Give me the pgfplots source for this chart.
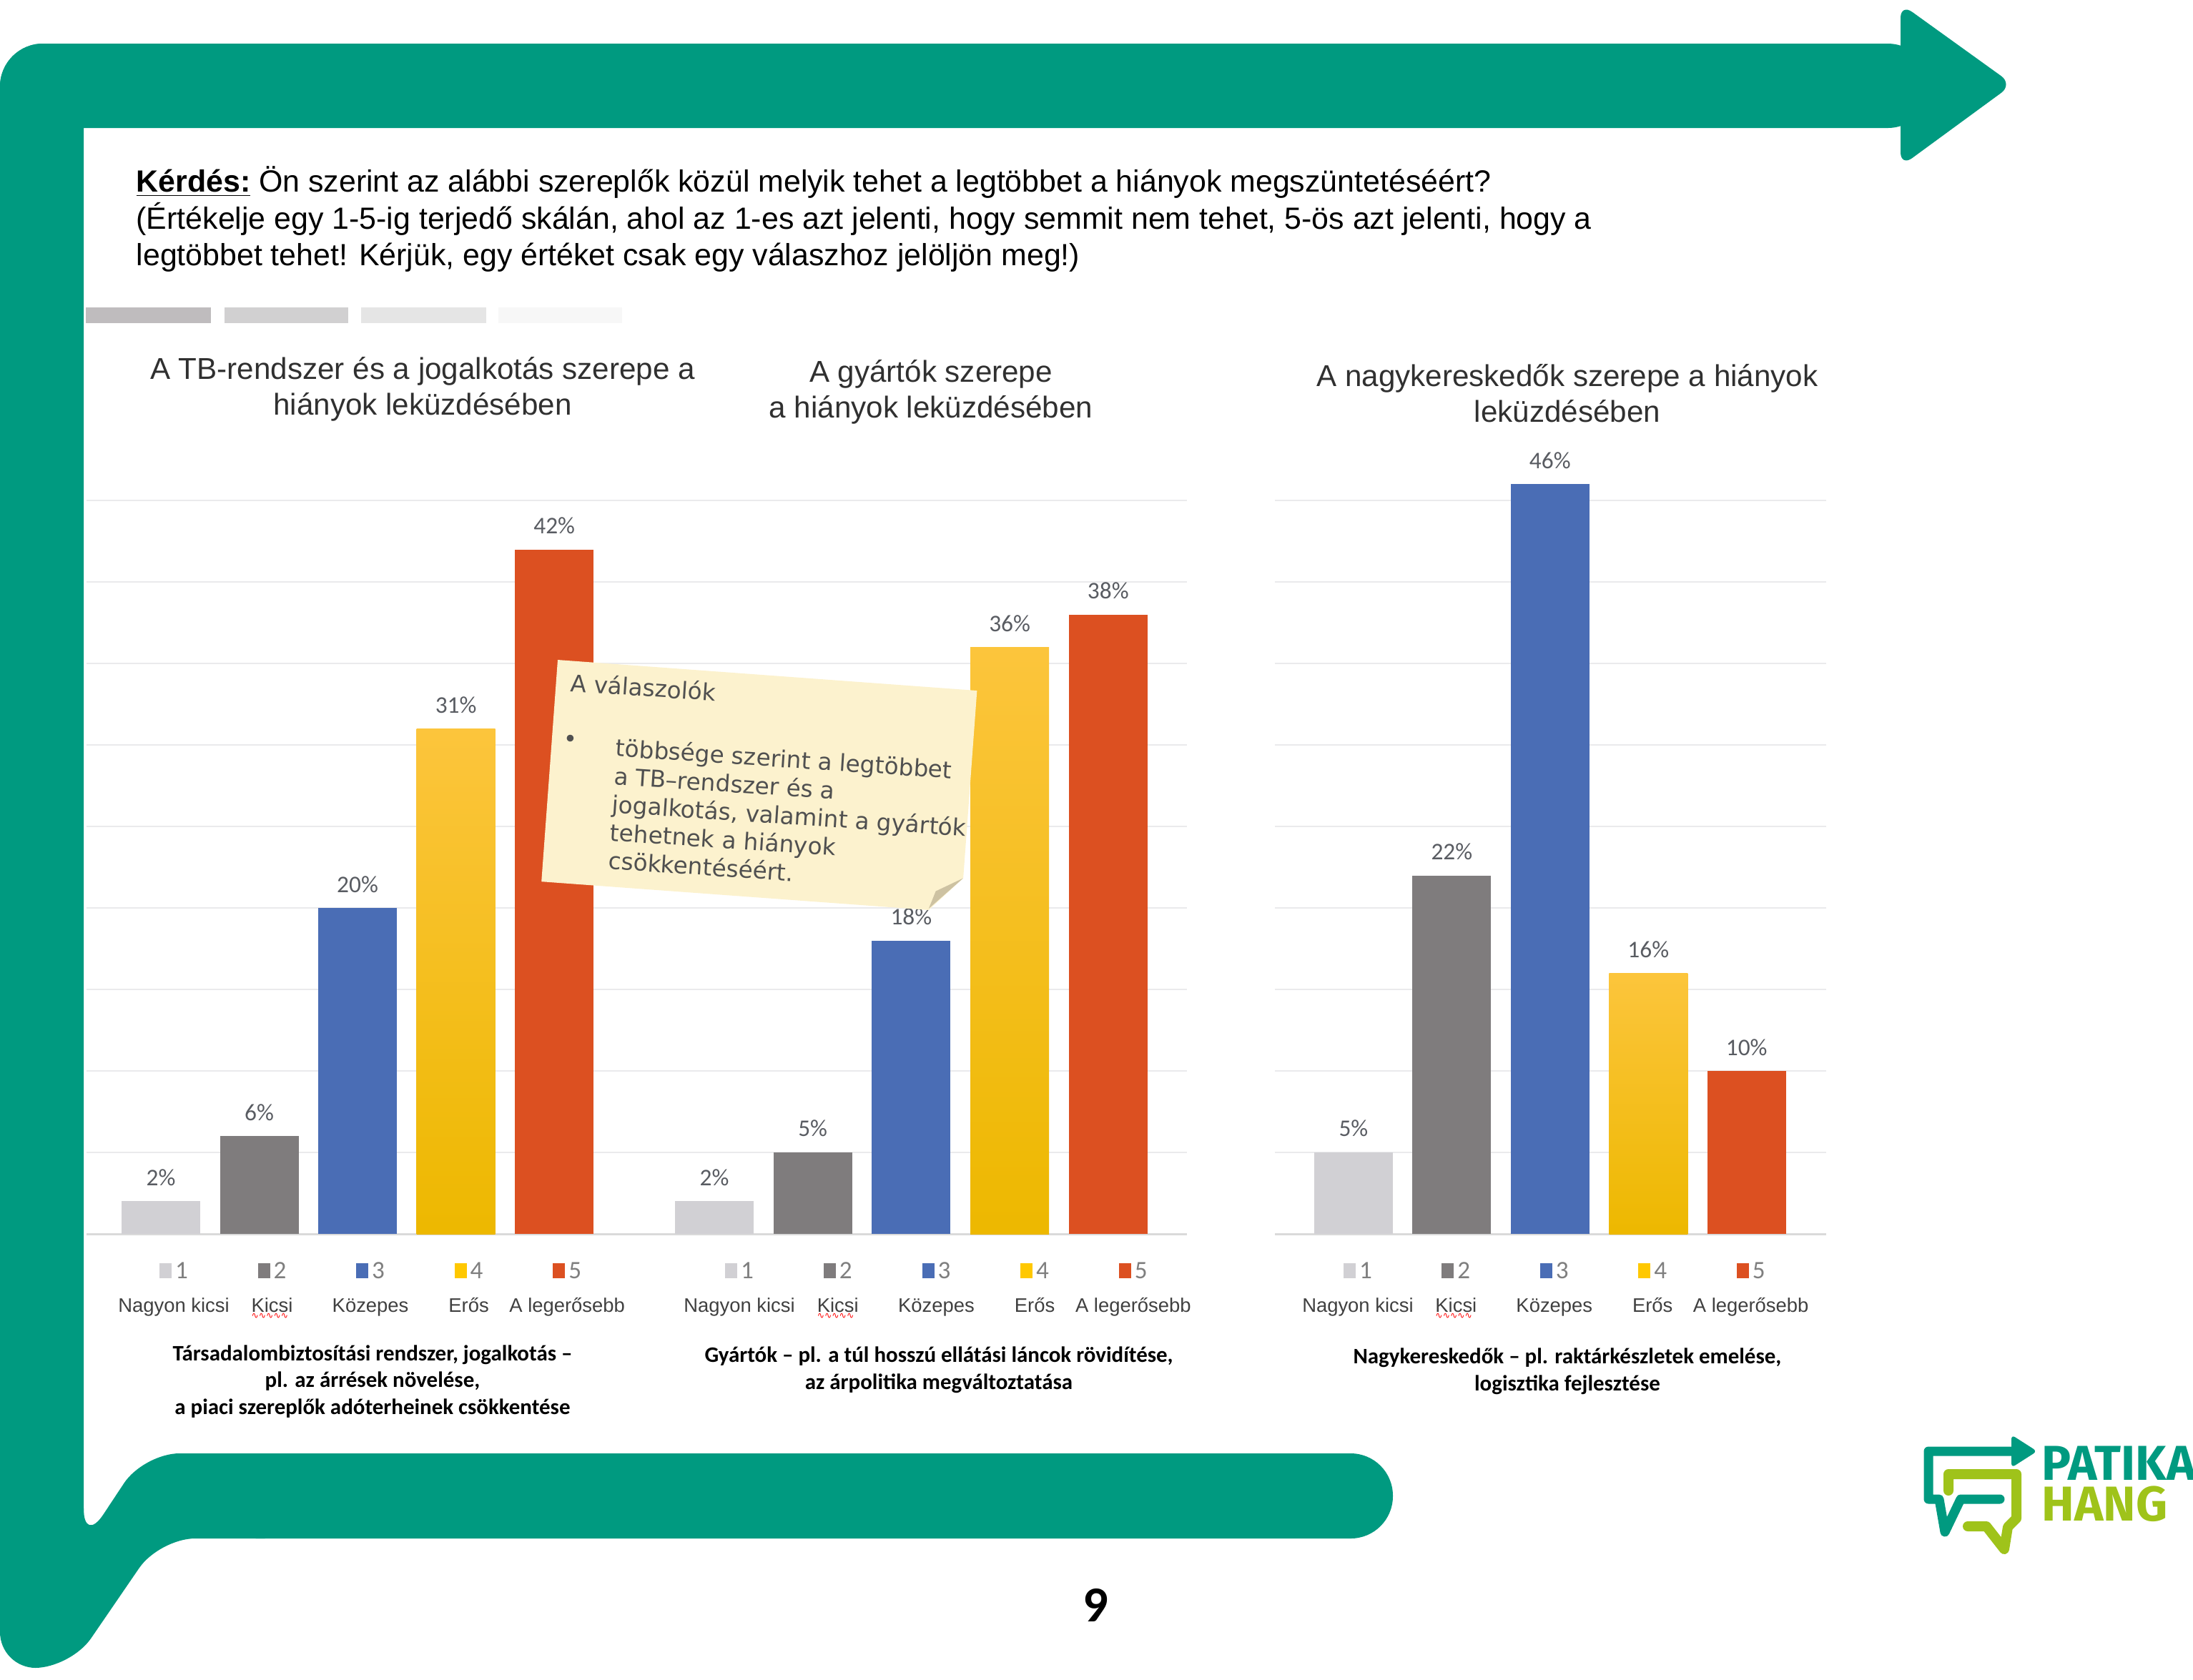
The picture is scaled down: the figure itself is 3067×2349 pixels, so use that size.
\documentclass[border=0pt]{standalone}
\usepackage{fontspec}
\usepackage{pgfplots}
\pgfplotsset{compat=1.18}
\setmainfont{Liberation Sans}
\newfontfamily\carl{Carlito}
\newfontfamily\dvs{DejaVu Sans}
\newfontfamily\fira{Fira Sans}

\definecolor{gr}{HTML}{009A80}
\definecolor{lime}{HTML}{9FC31A}
\definecolor{c1}{HTML}{D1D0D4}
\definecolor{c2}{HTML}{7F7C7D}
\definecolor{c3}{HTML}{4A6DB5}
\definecolor{c4t}{HTML}{FCC53C}
\definecolor{c4m}{HTML}{FFC800}
\definecolor{c4b}{HTML}{EDB800}
\definecolor{c5}{HTML}{DC5021}
\definecolor{gridc}{HTML}{EAEAEC}
\definecolor{basec}{HTML}{DADADA}
\definecolor{lblc}{HTML}{595C62}
\definecolor{numc}{HTML}{7F7F7F}
\definecolor{namec}{HTML}{404040}
\definecolor{titc}{HTML}{303030}
\definecolor{tab1}{HTML}{BFBCBE}
\definecolor{tab2}{HTML}{D1D0D1}
\definecolor{tab3}{HTML}{E5E5E5}
\definecolor{tab4}{HTML}{F7F7F7}
\definecolor{notec}{HTML}{FCF2CE}
\definecolor{foldc}{HTML}{CDC2A2}
\definecolor{notet}{HTML}{505050}

\newcommand\sq[1]{\textcolor{#1}{\rule{1.7mm}{2.1mm}}\hspace{0.5mm}}
\newsavebox\wavybox
\DeclareRobustCommand\wavy[1]{\sbox\wavybox{#1}\rlap{\raisebox{-0.9mm}{\textcolor{red}{\dvs\fontsize{3.5}{4}\selectfont\leaders\hbox{∿}\hskip\wd\wavybox}}}#1}

\pgfplotsset{
  barchart/.style={
    scale only axis, height=106mm, ymin=0, ymax=46.5, clip=false,
    /pgf/number format/assume math mode=true,
    axis line style={draw=none}, tick style={draw=none}, major tick length=0pt,
    ytick={5,10,...,45}, yticklabel={\mbox{}}, ymajorgrids,
    grid style={draw=gridc, line width=0.25mm},
    extra y ticks={0}, extra y tick labels={},
    extra y tick style={grid style={draw=basec, line width=0.3mm}},
    xtick={0,1,2,3,4},
    xticklabels={{\sq{c1}1},{\sq{c2}2},{\sq{c3}3},{\sq{c4m}4},{\sq{c5}5}},
    x tick label style={anchor=base, yshift=-6.2mm, font=\carl\fontsize{10}{12}\selectfont, text=numc, inner sep=0pt},
    extra x ticks={0,1,2,3,4},
    extra x tick labels={Nagyon kicsi,\wavy{Kicsi},Közepes,Erős,A legerősebb},
    extra x tick style={x tick label style={yshift=-4.7mm, font=\fontsize{7.8}{9}\selectfont, text=namec}},
    nodes near coords={\pgfmathprintnumber{\pgfplotspointmeta}\%},
    every node near coord/.append style={anchor=south, yshift=6pt, inner sep=0pt,
      font=\carl\fontsize{9.5}{11}\selectfont, text=lblc},
  },
  b/.style={ybar, bar width=11mm, bar shift=0pt, draw=none, fill=#1},
  by/.style={ybar, bar width=11mm, bar shift=0pt, draw=none, top color=c4t, middle color=c4m, bottom color=c4b},
}

\begin{document}
\begin{tikzpicture}
\begin{scope}[x=0.1mm,y=-0.1mm]
% green frame
\fill[gr, rounded corners=6mm] (0,61) rectangle (2700,179);
\fill[gr, rounded corners=2mm] (2658,5) -- (2815,118) -- (2658,233) -- cycle;
\fill[gr, rounded corners=6mm] (0,61) rectangle (117,2290);
\fill[gr, rounded corners=5mm] (0,2100) -- (117,2100) -- (117,2160) -- (201,2033) -- (420,2033) -- (420,2152) -- (223,2152) -- (99,2333) -- (0,2333) -- cycle;
\fill[gr, rounded corners=5.9mm] (300,2033) rectangle (1948,2152);

% question
\begin{scope}[every node/.style={anchor=base west, inner sep=0, font=\fontsize{12.2}{14}\selectfont}]
\node at (190,268)
  {\underline{\textbf{Kérdés:}} Ön szerint az alábbi szereplők közül melyik tehet a legtöbbet a hiányok megszüntetéséért?};
\node at (190,320)
  {(Értékelje egy 1-5-ig terjedő skálán, ahol az 1-es azt jelenti, hogy semmit nem tehet, 5-ös azt jelenti, hogy a};
\node at (190,371)
  {legtöbbet tehet! Kérjük, egy értéket csak egy válaszhoz jelöljön meg!)};
\end{scope}

% tabs
\fill[tab1] (120,430) rectangle (295,452);
\fill[tab2] (314,430) rectangle (487,452);
\fill[tab3] (505,430) rectangle (680,452);
\fill[tab4] (697,430) rectangle (870,452);

% titles
\begin{scope}[every node/.style={anchor=base, inner sep=0, text=titc, font=\fontsize{12}{14}\selectfont}]
\node at (591,530) {A TB-rendszer és a jogalkotás szerepe a};
\node at (591,580) {hiányok leküzdésében};
\node at (1302,534) {A gyártók szerepe};
\node at (1302,584) {a hiányok leküzdésében};
\node at (2192,540) {A nagykereskedők szerepe a hiányok};
\node at (2192,590) {leküzdésében};
\end{scope}

% subtitles
\begin{scope}[every node/.style={anchor=base, inner sep=0, font=\carl\bfseries\fontsize{8.8}{10.7}\selectfont}]
\node at (521,1903) {Társadalombiztosítási rendszer, jogalkotás –};
\node at (521,1940) {pl. az árrések növelése,};
\node at (521,1978) {a piaci szereplők adóterheinek csökkentése};
\node at (1313,1905) {Gyártók – pl. a túl hosszú ellátási láncok rövidítése,};
\node at (1313,1943) {az árpolitika megváltoztatása};
\node at (2192,1907) {Nagykereskedők – pl. raktárkészletek emelése,};
\node at (2192,1945) {logisztika fejlesztése};
\end{scope}

% page number
\node[anchor=base, inner sep=0, font=\carl\bfseries\fontsize{20}{24}\selectfont] at (1532,2268) {9};

% logo
\begin{scope}
\clip (0,0) rectangle (3067,2349);
\draw[gr, line width=1.3mm, line cap=round, line join=round]
  (2825,2030) -- (2697,2030) -- (2697,2097) -- (2712,2097) -- (2720,2143) -- (2742,2097) -- (2797,2097);
\fill[gr, rounded corners=0.6mm] (2813,2007) -- (2849,2030) -- (2813,2053) -- cycle;
\draw[lime, line width=1.4mm, line cap=round, line join=round]
  (2725,2085) -- (2725,2062) -- (2820,2062) -- (2820,2124) -- (2808,2136) -- (2803,2167) -- (2778,2135) -- (2752,2135);
\node[anchor=base west, inner sep=0, text=gr, font=\fira\bfseries\fontsize{19.5}{22}\selectfont] at (2855,2070) {PATIKA};
\node[anchor=base west, inner sep=0, text=lime, font=\fira\bfseries\fontsize{19.5}{22}\selectfont] at (2855,2127) {HANG};
\end{scope}

\coordinate (A1) at (121,1726);
\coordinate (A2) at (888,1726);
\coordinate (A3) at (1783,1726);
\end{scope}

% chart 1
\begin{axis}[barchart, at={(A1)}, anchor=south west, width=76.7mm, xmin=-0.756, xmax=4.82,
  x tick label style={xshift=1.8mm}]
\addplot[b=c1] coordinates {(0,2)};
\addplot[b=c2] coordinates {(1,6)};
\addplot[b=c3] coordinates {(2,20)};
\addplot[by] coordinates {(3,31)};
\addplot[b=c5] coordinates {(4,42)};
\end{axis}

% chart 2
\begin{axis}[barchart, at={(A2)}, anchor=south west, width=77.2mm, xmin=-0.806, xmax=4.80,
  x tick label style={xshift=3.5mm}]
\addplot[b=c1] coordinates {(0,2)};
\addplot[b=c2] coordinates {(1,5)};
\addplot[b=c3] coordinates {(2,18)};
\addplot[by] coordinates {(3,36)};
\addplot[b=c5] coordinates {(4,38)};
\end{axis}

% chart 3
\begin{axis}[barchart, at={(A3)}, anchor=south west, width=77.1mm, xmin=-0.80, xmax=4.81,
  x tick label style={xshift=0.6mm}]
\addplot[b=c1] coordinates {(0,5)};
\addplot[b=c2] coordinates {(1,22)};
\addplot[b=c3] coordinates {(2,46)};
\addplot[by] coordinates {(3,16)};
\addplot[b=c5] coordinates {(4,10)};
\end{axis}

% sticky note
\begin{scope}[x=0.1mm,y=-0.1mm]
\begin{scope}[shift={(780,923)}, rotate=-4.2]
\fill[notec] (0,0) -- (588,0) -- (588,263) -- (543,311) -- (0,311) -- cycle;
\fill[foldc] (588,263) -- (543,309) -- (551,284) -- cycle;
\end{scope}
\begin{scope}[every node/.style={inner sep=0, rotate=-3.8, text=notet, font=\dvs\fontsize{9.3}{11.24}\selectfont}]
\node[anchor=base west] at (797,967) {A válaszolók};
\node[anchor=center] at (798,1037) {•};
\node[anchor=north west, align=left] at (861.7,1031)
  {többsége szerint a legtöbbet\\ a TB–rendszer és a\\ jogalkotás, valamint a gyártók\\ tehetnek a hiányok\\ csökkentéséért.};
\end{scope}
\end{scope}

\pgfresetboundingbox
\begin{scope}[x=0.1mm,y=-0.1mm]
\path[use as bounding box] (0,0) rectangle (3067,2349);
\end{scope}
\end{tikzpicture}
\end{document}
